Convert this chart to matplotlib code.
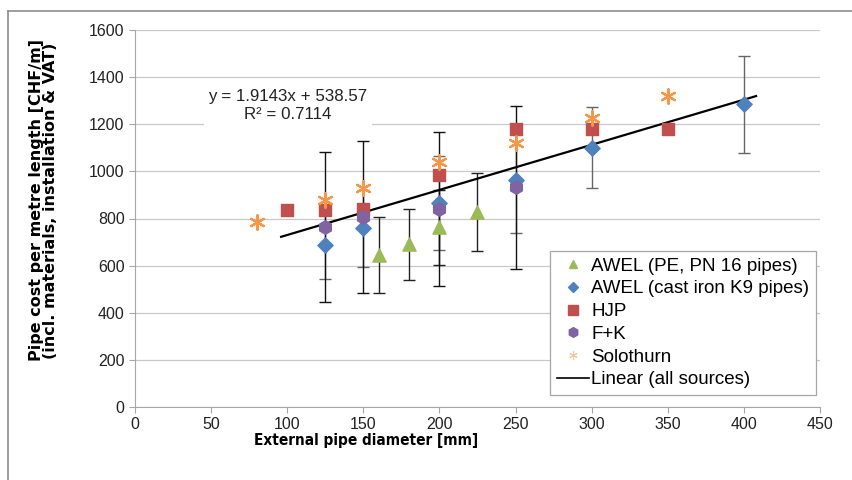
import matplotlib.pyplot as plt
from matplotlib.lines import Line2D

plt.rcParams['font.family'] = ['Liberation Sans', 'DejaVu Sans']

# AWEL (PE, PN 16 pipes)
pe_x = [160, 180, 200, 225]
pe_y = [645, 690, 762, 828]
pe_err = [160, 150, 160, 165]

# AWEL (cast iron K9 pipes)
ci_x = [125, 150, 200, 250, 300, 400]
ci_y = [688, 758, 865, 965, 1100, 1285]
ci_err = [145, 165, 200, 225, 172, 206]

# HJP
hjp_x = [100, 125, 150, 200, 250, 300, 350]
hjp_y = [835, 838, 840, 985, 1180, 1180, 1180]

# F+K
fk_x = [125, 150, 200, 250]
fk_y = [765, 805, 840, 932]
fk_err = [318, 322, 325, 346]

# Solothurn
so_x = [80, 125, 150, 200, 250, 300, 350]
so_y = [785, 880, 930, 1040, 1120, 1228, 1320]

# linear trend (all sources)
slope, intercept = 1.9143, 538.57
trend_x = [96, 408]

fig = plt.figure(figsize=(8.53, 4.8), dpi=100)
ax = fig.add_axes([135 / 853, 1 - 407 / 480, 685 / 853, 377 / 480])

grey = '#a6a6a6'
ax.set_xlim(0, 450)
ax.set_ylim(0, 1600)
ax.set_xticks(range(0, 451, 50))
ax.set_yticks(range(0, 1601, 200))
ax.grid(axis='y', color='#c8c8c8', linewidth=0.9)
ax.set_axisbelow(True)
for s in ['top', 'right']:
    ax.spines[s].set_visible(False)
for s in ['left', 'bottom']:
    ax.spines[s].set_color(grey)
ax.tick_params(direction='out', length=4, color=grey, labelsize=11.5,
               labelcolor='#222222')

ax.errorbar(pe_x, pe_y, yerr=pe_err, fmt='none', ecolor='#222222',
            elinewidth=1, capsize=4, capthick=1, zorder=2)
ax.errorbar(ci_x, ci_y, yerr=ci_err, fmt='none', ecolor='#666666',
            elinewidth=1, capsize=4, capthick=1, zorder=2)
ax.errorbar(fk_x, fk_y, yerr=fk_err, fmt='none', ecolor='#111111',
            elinewidth=1, capsize=4, capthick=1, zorder=2)

tx = trend_x
ty = [slope * v + intercept for v in tx]
ax.plot(tx, ty, color='black', linewidth=1.6, zorder=3)

ax.scatter(pe_x, pe_y, marker='^', s=90, color='#9BBB59', zorder=4)
ax.scatter(ci_x, ci_y, marker='D', s=60, color='#4F81BD', zorder=4)
ax.scatter(hjp_x, hjp_y, marker='s', s=85, color='#C0504D', zorder=4)
ax.scatter(fk_x, fk_y, marker='h', s=95, color='#8064A2', zorder=4)
ax.scatter(so_x, so_y, marker=(6, 2, 0), s=110, color='#F79646',
           linewidths=1.6, zorder=5)

ax.text(100.5, 1280, 'y = 1.9143x + 538.57\nR² = 0.7114', ha='center',
        va='center', fontsize=12.2, linespacing=1.2, color='#222222',
        bbox=dict(facecolor='white', edgecolor='none', pad=3), zorder=3)

# x label is narrow in the original, placed left of centre
ax.set_xlabel('External pipe diameter [mm]', fontsize=11, fontweight='bold',
              family='DejaVu Sans', fontstretch='condensed')
ax.xaxis.set_label_coords(0.337, -0.07)
ax.set_ylabel('Pipe cost per metre length [CHF/m]\n(incl. materials, installation & VAT)',
              fontsize=11.5, fontweight='bold', family='DejaVu Sans',
              linespacing=0.9)
ax.yaxis.set_label_coords(-0.112, 0.548)

handles = [
    Line2D([], [], marker='^', color='#9BBB59', linestyle='none', markersize=6),
    Line2D([], [], marker='D', color='#4F81BD', linestyle='none', markersize=5),
    Line2D([], [], marker='s', color='#C0504D', linestyle='none', markersize=7),
    Line2D([], [], marker='h', color='#8064A2', linestyle='none', markersize=7),
    Line2D([], [], marker=(6, 2, 0), color='#F7C8A0', linestyle='none',
           markersize=6, markeredgewidth=0.8),
    Line2D([], [], color='black', linewidth=1.2),
]
labels = ['AWEL (PE, PN 16 pipes)', 'AWEL (cast iron K9 pipes)', 'HJP', 'F+K',
          'Solothurn', 'Linear (all sources)']
leg = ax.legend(handles, labels, loc='lower right', bbox_to_anchor=(0.994, 0.032),
                fontsize=13.5, frameon=True, fancybox=False, framealpha=1,
                edgecolor=grey, handlelength=1.7, handletextpad=0.15,
                labelspacing=0.3, borderpad=0.35, borderaxespad=0)
leg.get_frame().set_linewidth(0.9)
leg.set_zorder(6)

# outer chart frame
fig.add_artist(Line2D([8 / 853, 8 / 853], [0, 1 - 11 / 480], color='#8c8c8c',
                      linewidth=1.2, transform=fig.transFigure))
fig.add_artist(Line2D([8 / 853, 1], [1 - 11 / 480, 1 - 11 / 480], color='#8c8c8c',
                      linewidth=1.2, transform=fig.transFigure))

fig.savefig('out.png', dpi=100, facecolor='white')
